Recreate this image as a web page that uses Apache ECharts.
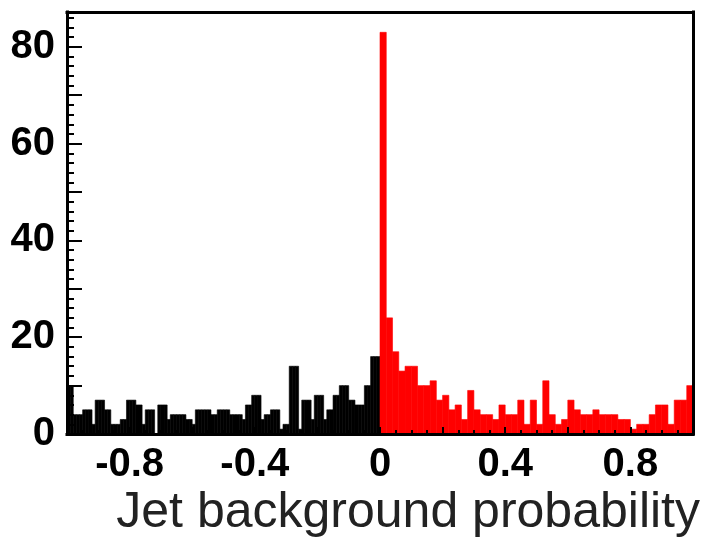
<!DOCTYPE html>
<html>
<head>
<meta charset="utf-8">
<script src="https://cdn.jsdelivr.net/npm/echarts@6/dist/echarts.min.js"></script>
<style>
  html, body { margin: 0; padding: 0; background: #fff; }
  #chart { width: 704px; height: 537px; }
</style>
</head>
<body>
<div id="chart"></div>
<script>
// Jet background probability: entries per bin, negative side (fine bins)
const blackBinStart = -1.0;
const blackBinWidth = 0.01;
const blackCounts = [
  10, 10, 4, 4, 4, 5, 5, 5, 2, 7,
  7, 7, 5, 5, 2, 2, 2, 3, 3, 7,
  7, 7, 6, 6, 2, 5, 5, 5, 0, 6,
  6, 6, 3, 4, 4, 4, 4, 4, 3, 3,
  2, 5, 5, 5, 5, 5, 4, 4, 5, 5,
  5, 5, 4, 4, 4, 4, 3, 6, 6, 8,
  8, 8, 3, 4, 4, 5, 5, 5, 1, 2,
  2, 14, 14, 14, 1, 7, 7, 7, 3, 8,
  8, 8, 3, 5, 5, 8, 8, 10, 10, 10,
  7, 7, 6, 6, 6, 10, 10, 16, 16, 16
];

// Positive side (coarse bins)
const redBinStart = 0.0;
const redBinWidth = 0.02;
const redCounts = [
  83, 24, 17, 13, 14, 14, 10, 10, 11, 7,
  8, 5, 6, 3, 9, 5, 4, 4, 3, 6,
  4, 4, 7, 2, 7, 2, 11, 4, 2, 3,
  7, 5, 4, 4, 5, 4, 4, 4, 3, 3,
  1, 2, 2, 4, 6, 6, 2, 7, 7, 10
];

const xTickLabels = ['-0.8', '-0.4', '0', '0.4', '0.8'];
const yTickLabels = ['0', '20', '40', '60', '80'];
const xTitle = 'Jet background probability';

function toBins(start, width, counts) {
  return counts.map((c, i) => [start + i * width, start + (i + 1) * width, c]);
}

function renderBin(color) {
  return function (params, api) {
    const lo = api.coord([api.value(0), 0]);
    const hi = api.coord([api.value(1), api.value(2)]);
    return {
      type: 'rect',
      shape: { x: lo[0], y: hi[1], width: hi[0] - lo[0], height: lo[1] - hi[1] },
      style: { fill: color, stroke: color, lineWidth: 0.6 }
    };
  };
}

const labelFont = {
  color: '#000',
  fontSize: 40,
  fontWeight: 'bold',
  fontFamily: '"Liberation Sans", Arial, sans-serif'
};
const frameLine = { color: '#000', width: 3, cap: 'square' };
const noSplit = { show: false };

const chart = echarts.init(document.getElementById('chart'), null, { renderer: 'canvas' });

chart.setOption({
  animation: false,
  backgroundColor: '#fff',
  grid: { left: 67, right: 11, top: 12, bottom: 103 },
  xAxis: [
    {
      type: 'value', position: 'bottom', min: -1, max: 1, interval: 0.2, z: 5,
      axisLine: { onZero: false, lineStyle: frameLine },
      axisTick: { inside: true, length: 7, lineStyle: { color: '#000', width: 2 } },
      axisLabel: Object.assign({
        margin: 11,
        formatter: function (v) {
          const s = String(Number(v.toFixed(1)));
          return xTickLabels.indexOf(s) >= 0 ? s : '';
        }
      }, labelFont),
      splitLine: noSplit
    },
    {
      type: 'value', position: 'bottom', min: -1, max: 1, interval: 0.05, z: 5,
      axisLine: { show: false, onZero: false },
      axisTick: { inside: true, length: 4, lineStyle: { color: '#000', width: 2 } },
      axisLabel: { show: false },
      splitLine: noSplit
    },
    {
      type: 'value', position: 'top', min: -1, max: 1, z: 5,
      axisLine: { onZero: false, lineStyle: frameLine },
      axisTick: { show: false },
      axisLabel: { show: false },
      splitLine: noSplit
    }
  ],
  yAxis: [
    {
      type: 'value', position: 'left', min: 0, max: 87.2, interval: 10, z: 5,
      axisLine: { onZero: false, lineStyle: frameLine },
      axisTick: { inside: true, length: 15, lineStyle: { color: '#000', width: 2 } },
      axisLabel: Object.assign({
        margin: 12,
        formatter: function (v) {
          const s = String(Math.round(v));
          return (Math.abs(v - Math.round(v)) < 1e-6 && yTickLabels.indexOf(s) >= 0) ? s : '';
        }
      }, labelFont),
      splitLine: noSplit
    },
    {
      type: 'value', position: 'left', min: 0, max: 87.2, interval: 2, z: 5,
      axisLine: { show: false, onZero: false },
      axisTick: { inside: true, length: 7, lineStyle: { color: '#000', width: 2 } },
      axisLabel: { show: false },
      splitLine: noSplit
    },
    {
      type: 'value', position: 'right', min: 0, max: 87.2, z: 5,
      axisLine: { onZero: false, lineStyle: frameLine },
      axisTick: { show: false },
      axisLabel: { show: false },
      splitLine: noSplit
    }
  ],
  series: [
    {
      type: 'custom', name: 'negative', xAxisIndex: 0, yAxisIndex: 0,
      renderItem: renderBin('#000000'),
      encode: { x: [0, 1], y: 2 },
      data: toBins(blackBinStart, blackBinWidth, blackCounts)
    },
    {
      type: 'custom', name: 'positive', xAxisIndex: 0, yAxisIndex: 0,
      renderItem: renderBin('#ff0000'),
      encode: { x: [0, 1], y: 2 },
      data: toBins(redBinStart, redBinWidth, redCounts)
    }
  ],
  graphic: [
    {
      type: 'text', right: 4, top: 488, z: 10,
      style: {
        text: xTitle,
        fill: '#222',
        font: '50px "Liberation Sans", Arial, sans-serif'
      }
    }
  ]
});
</script>
</body>
</html>
